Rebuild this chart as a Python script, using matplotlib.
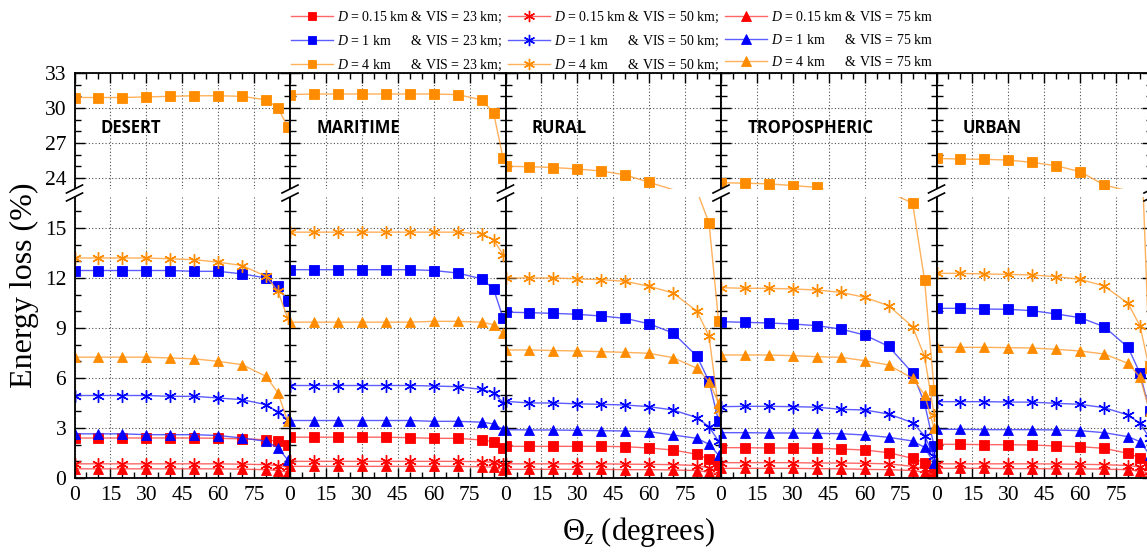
import numpy as np
import matplotlib.pyplot as plt
from matplotlib.lines import Line2D
from matplotlib.patches import Polygon
from matplotlib.ticker import MultipleLocator

plt.rcParams['font.family'] = 'Liberation Serif'
plt.rcParams['mathtext.fontset'] = 'custom'
plt.rcParams['mathtext.rm'] = 'Liberation Serif'
plt.rcParams['mathtext.it'] = 'Liberation Serif:italic'

theta = [0, 10, 20, 30, 40, 50, 60, 70, 80, 85, 89]

panel_names = ['DESERT', 'MARITIME', 'RURAL', 'TROPOSPHERIC', 'URBAN']
dist = ['0.15', '1', '4']
vis = ['23', '50', '75']

# rows: D=0.15 (VIS 23, 50, 75), D=1 (VIS 23, 50, 75), D=4 (VIS 23, 50, 75)
desert = [
    [2.4, 2.4, 2.4, 2.4, 2.4, 2.4, 2.38, 2.35, 2.3, 2.2, 2.0],
    [0.85, 0.85, 0.85, 0.85, 0.85, 0.85, 0.85, 0.83, 0.8, 0.75, 0.65],
    [0.55, 0.55, 0.55, 0.55, 0.55, 0.55, 0.55, 0.53, 0.5, 0.45, 0.35],
    [12.45, 12.45, 12.45, 12.45, 12.45, 12.4, 12.4, 12.25, 12.0, 11.5, 10.6],
    [4.95, 4.95, 4.95, 4.95, 4.9, 4.9, 4.8, 4.7, 4.4, 3.95, 3.5],
    [2.65, 2.65, 2.65, 2.6, 2.6, 2.6, 2.55, 2.4, 2.2, 1.8, 1.1],
    [30.9, 30.9, 30.9, 30.95, 31.0, 31.05, 31.05, 31.0, 30.7, 30.0, 28.4],
    [13.2, 13.2, 13.2, 13.2, 13.15, 13.1, 12.95, 12.75, 12.1, 11.2, 9.6],
    [7.25, 7.25, 7.25, 7.25, 7.2, 7.15, 7.0, 6.8, 6.1, 5.1, 3.4],
]
maritime = [
    [2.45, 2.45, 2.45, 2.45, 2.45, 2.42, 2.38, 2.38, 2.28, 2.18, 1.82],
    [1.0, 1.0, 1.0, 1.0, 1.0, 1.0, 1.0, 1.0, 0.98, 0.95, 0.85],
    [0.7, 0.7, 0.7, 0.7, 0.7, 0.7, 0.7, 0.7, 0.68, 0.65, 0.5],
    [12.5, 12.5, 12.5, 12.5, 12.5, 12.5, 12.45, 12.3, 11.95, 11.35, 9.6],
    [5.55, 5.55, 5.55, 5.55, 5.55, 5.55, 5.52, 5.48, 5.32, 5.12, 4.52],
    [3.45, 3.45, 3.45, 3.45, 3.45, 3.45, 3.4, 3.4, 3.35, 3.25, 2.9],
    [31.15, 31.2, 31.2, 31.2, 31.2, 31.2, 31.2, 31.15, 30.7, 29.6, 25.7],
    [14.75, 14.75, 14.75, 14.75, 14.75, 14.75, 14.75, 14.75, 14.65, 14.3, 13.4],
    [9.35, 9.35, 9.35, 9.35, 9.35, 9.35, 9.4, 9.4, 9.35, 9.2, 8.7],
]
rural = [
    [1.9, 1.9, 1.9, 1.9, 1.9, 1.88, 1.8, 1.68, 1.42, 1.12, 0.78],
    [0.85, 0.85, 0.85, 0.85, 0.85, 0.83, 0.82, 0.8, 0.75, 0.6, 0.4],
    [0.52, 0.52, 0.52, 0.52, 0.52, 0.5, 0.5, 0.48, 0.45, 0.35, 0.25],
    [9.95, 9.92, 9.88, 9.82, 9.72, 9.58, 9.25, 8.7, 7.3, 5.8, 3.4],
    [4.6, 4.5, 4.5, 4.45, 4.42, 4.38, 4.28, 4.08, 3.62, 3.08, 2.2],
    [2.9, 2.88, 2.88, 2.86, 2.84, 2.82, 2.78, 2.58, 2.38, 2.02, 1.38],
    [25.0, 24.97, 24.9, 24.77, 24.6, 24.26, 23.63, 23.0, 17.2, 15.3, 9.4],
    [12.0, 12.0, 12.0, 11.95, 11.9, 11.8, 11.5, 11.1, 10.0, 8.5, 4.1],
    [7.68, 7.68, 7.65, 7.62, 7.58, 7.54, 7.48, 7.22, 6.58, 5.78, 4.5],
]
tropospheric = [
    [1.82, 1.82, 1.8, 1.8, 1.78, 1.74, 1.68, 1.52, 1.18, 0.92, 0.5],
    [0.92, 0.92, 0.92, 0.92, 0.9, 0.9, 0.88, 0.85, 0.7, 0.55, 0.3],
    [0.58, 0.58, 0.58, 0.58, 0.56, 0.55, 0.52, 0.5, 0.45, 0.35, 0.2],
    [9.38, 9.34, 9.3, 9.24, 9.14, 8.94, 8.58, 7.9, 6.3, 4.5, 1.9],
    [4.28, 4.3, 4.3, 4.28, 4.25, 4.12, 4.08, 3.84, 3.32, 2.54, 1.3],
    [2.72, 2.72, 2.7, 2.7, 2.68, 2.66, 2.58, 2.44, 2.22, 1.84, 0.9],
    [23.6, 23.55, 23.5, 23.35, 23.2, 22.6, 21.0, 17.15, 16.5, 11.9, 5.3],
    [11.42, 11.38, 11.38, 11.34, 11.28, 11.14, 10.84, 10.34, 9.08, 7.3, 3.8],
    [7.38, 7.38, 7.38, 7.34, 7.28, 7.24, 7.04, 6.78, 5.98, 5.0, 3.0],
]
urban = [
    [2.02, 2.02, 2.0, 2.0, 1.98, 1.92, 1.88, 1.78, 1.48, 1.22, 0.8],
    [0.85, 0.85, 0.85, 0.85, 0.85, 0.84, 0.82, 0.8, 0.75, 0.65, 0.45],
    [0.58, 0.58, 0.58, 0.56, 0.56, 0.55, 0.55, 0.53, 0.5, 0.4, 0.3],
    [10.18, 10.18, 10.14, 10.12, 10.04, 9.84, 9.62, 9.08, 7.84, 6.28, 4.0],
    [4.58, 4.58, 4.58, 4.56, 4.55, 4.48, 4.42, 4.22, 3.78, 3.28, 2.4],
    [2.92, 2.92, 2.9, 2.9, 2.9, 2.88, 2.84, 2.72, 2.48, 2.18, 1.4],
    [25.68, 25.62, 25.6, 25.54, 25.34, 25.05, 24.54, 23.4, 22.9, 22.3, 6.7],
    [12.28, 12.28, 12.24, 12.22, 12.18, 12.08, 11.92, 11.52, 10.48, 9.12, 6.5],
    [7.84, 7.84, 7.84, 7.82, 7.8, 7.72, 7.62, 7.44, 6.88, 6.04, 4.0],
]
all_panels = [desert, maritime, rural, tropospheric, urban]

colors = {'0.15': '#ff0000', '1': '#0000ff', '4': '#ff8c00'}
line_colors = {'0.15': (1, 0.25, 0.25, 0.8), '1': (0.2, 0.2, 1, 0.8), '4': (1, 0.62, 0.2, 0.8)}
markers = {'23': 's', '50': (6, 2, 0), '75': '^'}
msizes = {'23': 6.5, '50': 9, '75': 7.5}

W, H = 1147, 553
fig = plt.figure(figsize=(W / 100, H / 100), dpi=100)

def fx(px):
    return px / W

def fy(py):
    return 1 - py / H

pw = 215.5
lefts = [74.5 + i * pw for i in range(5)]
lo_top, lo_bot, hi_top, hi_bot = 197, 478, 73, 189
lo_ymax = (lo_bot - lo_top) / (250 / 15)
hi_ymin = 33 - (hi_bot - hi_top) / (105 / 9)

def style(ax, lo):
    ax.set_xlim(0, 90)
    ax.set_xticks([0, 15, 30, 45, 60, 75, 90])
    ax.xaxis.set_minor_locator(MultipleLocator(5))
    ax.yaxis.set_minor_locator(MultipleLocator(1))
    ax.tick_params(which='both', direction='in', left=True, right=True,
                   top=not lo, bottom=lo, labelsize=15.5, pad=6)
    ax.tick_params(which='major', length=7, width=1)
    ax.tick_params(which='minor', length=4, width=1)
    ax.grid(True, which='major', ls=(0, (1, 2)), color='0.3', lw=0.8)
    for s in ax.spines.values():
        s.set_linewidth(1.3)

for i, (name, data) in enumerate(zip(panel_names, all_panels)):
    ax_lo = fig.add_axes([fx(lefts[i]), fy(lo_bot), pw / W, (lo_bot - lo_top) / H])
    ax_hi = fig.add_axes([fx(lefts[i]), fy(hi_bot), pw / W, (hi_bot - hi_top) / H])
    for ax, (ymin, ymax) in ((ax_lo, (0, lo_ymax)), (ax_hi, (hi_ymin, 33))):
        k = 0
        for d in dist:
            for v in vis:
                y = np.array(data[k])
                ax.plot(theta, y, color=line_colors[d], lw=1.0)
                # markers only where the point falls inside this segment of the broken axis
                ym = np.where((y >= ymin - 0.05) & (y <= ymax + 0.05), y, np.nan)
                ax.plot(theta, ym, ls='none', marker=markers[v], ms=msizes[v],
                        mfc=colors[d], mec=colors[d], mew=1.0 if v == '50' else 0.6)
                k += 1
    style(ax_lo, True)
    style(ax_hi, False)
    ax_lo.set_ylim(0, lo_ymax)
    ax_lo.set_yticks([0, 3, 6, 9, 12, 15])
    ax_lo.spines['top'].set_visible(False)
    ax_lo.set_xticklabels(['0', '15', '30', '45', '60', '75', ''])
    ax_hi.set_ylim(hi_ymin, 33)
    ax_hi.set_yticks([24, 27, 30, 33])
    ax_hi.spines['bottom'].set_visible(False)
    ax_hi.tick_params(labelbottom=False)
    if i > 0:
        ax_lo.tick_params(labelleft=False)
        ax_hi.tick_params(labelleft=False)
    ax_hi.text(11, 28.3, name, fontfamily='Open Sans', fontweight='bold',
               fontsize=12, va='center', ha='left')

# axis break marks
for x in lefts + [lefts[-1] + pw]:
    yc = (lo_top + hi_bot) / 2
    fig.add_artist(Polygon([[fx(x - 8), fy(yc + 8)], [fx(x + 8), fy(yc)],
                            [fx(x + 8), fy(yc - 8)], [fx(x - 8), fy(yc)]],
                           closed=True, transform=fig.transFigure, fc='white', ec='none'))
    for off in (-4, 4):
        fig.add_artist(Line2D([fx(x - 8), fx(x + 8)], [fy(yc + 4 + off), fy(yc - 4 + off)],
                              transform=fig.transFigure, color='k', lw=1.2))

# legend (column-major fill)
handles, labels = [], []
for v in vis:
    for d in dist:
        handles.append(Line2D([], [], color=line_colors[d], lw=1.0, marker=markers[v],
                              ms=msizes[v] * 0.9, mfc=colors[d], mec=colors[d],
                              mew=1.0 if v == '50' else 0.6))
        dtxt = '0.15 km ' if d == '0.15' else d + ' km      '
        labels.append('$D$ = ' + dtxt + '& VIS = ' + v + ' km' + (';' if v != '75' else ''))
fig.legend(handles, labels, ncol=3, loc='upper left', bbox_to_anchor=(fx(291), fy(10)),
           frameon=False, fontsize=10, handlelength=3.0, handletextpad=0.3,
           columnspacing=0.45, labelspacing=0.62, borderpad=0, borderaxespad=0)

fig.text(fx(24), fy(285), 'Energy loss (%)', rotation=90, fontsize=23,
         ha='center', va='center')
fig.text(fx(639), fy(532), r'$\mathit{Θ}_z$ (degrees)', fontsize=22,
         ha='center', va='center')

fig.savefig('out.png', dpi=100)
